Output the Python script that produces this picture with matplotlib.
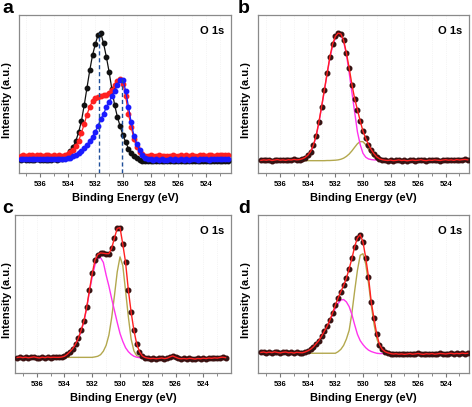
import numpy as np
import matplotlib.pyplot as plt

plt.rcParams['font.family'] = ['Liberation Sans', 'DejaVu Sans']

# binding energy grid (eV), 537.4 -> 522.4 in 0.2 eV steps
energy = np.round(np.linspace(537.4, 522.4, 76), 1)
# fitted components are drawn over 534.4 -> 528.2 (indices 15..46)
comp_slice = slice(15, 47)

# panel a: three samples
a_black = [8.4, 8.6, 8.3, 8.5, 8.2, 8.4, 8.6, 8.3, 8.5, 8.4, 8.2, 8.5, 8.6, 8.4, 8.7,
           9.0, 9.8, 11.5, 13.8, 16.5, 20.5, 26.0, 33.0, 43.0, 54.0, 65.0, 74.5, 81.5, 87.5, 88.5,
           82.0, 73.5, 64.0, 53.0, 43.0, 35.5, 29.5, 24.0, 19.5, 15.5, 12.8, 10.8, 9.3, 8.0, 7.4,
           7.5, 7.3, 7.6, 7.4, 7.7, 7.5, 7.3, 7.6, 7.8, 7.5, 7.4, 7.7, 7.5, 7.6, 7.3, 7.5,
           7.7, 7.4, 7.6, 7.5, 7.8, 7.6, 7.4, 7.7, 7.5, 7.6, 7.8, 7.5, 7.7, 7.6, 7.8]
a_red = [11.0, 11.4, 10.8, 11.2, 11.5, 10.9, 11.3, 11.1, 10.8, 11.4, 11.2, 10.9, 11.3, 11.0, 11.2,
         11.0, 11.2, 11.8, 13.0, 14.6, 17.0, 20.5, 25.5, 31.0, 37.0, 42.0, 45.5, 47.2, 48.3, 49.0,
         49.3, 49.6, 50.5, 52.5, 55.5, 58.0, 59.3, 56.5, 48.5, 37.5, 29.0, 21.5, 16.5, 13.3, 11.8,
         11.0, 10.7, 11.1, 10.6, 10.9, 11.2, 10.8, 10.5, 11.0, 10.9, 11.3, 10.7, 11.0, 11.2, 10.8,
         11.1, 10.9, 11.4, 10.8, 11.0, 11.3, 11.1, 10.9, 11.4, 11.2, 11.0, 11.5, 11.2, 11.4, 11.1, 11.6]
a_blue = [9.0, 8.8, 9.1, 8.9, 8.7, 9.0, 8.8, 9.1, 8.9, 8.8, 9.0, 8.7, 8.9, 9.0, 8.8,
          8.9, 9.0, 9.3, 9.8, 10.6, 11.6, 12.8, 14.2, 15.9, 18.0, 20.3, 23.0, 26.2, 30.0, 34.0,
          37.5, 41.5, 45.0, 48.5, 52.0, 55.8, 58.8, 59.0, 52.0, 42.0, 32.0, 23.5, 18.5, 14.3, 11.3,
          9.6, 8.9, 8.6, 8.5, 8.7, 8.4, 8.6, 8.5, 8.3, 8.6, 8.4, 8.7, 8.5, 8.6, 8.4, 8.7,
          8.5, 8.8, 8.6, 8.5, 8.7, 8.6, 8.8, 8.5, 8.7, 8.9, 8.6, 8.8, 8.7, 8.9, 8.8]
a_peaks = [531.7, 530.1]
a_peak_heights = [88.8, 59.3]

# panels b, c, d: measured data, magenta and olive fitted components
b_data = [8.0, 8.3, 8.1, 8.4, 7.9, 8.2, 8.5, 8.1, 8.3, 8.0, 8.4, 8.2, 8.6, 8.3, 8.5,
          9.0, 9.8, 11.2, 13.5, 17.5, 23.5, 32.0, 42.0, 52.5, 63.0, 73.5, 81.5, 86.5, 88.5, 88.0,
          84.0, 76.0, 66.5, 56.0, 47.0, 40.0, 33.0, 26.5, 22.0, 18.0, 14.8, 12.2, 10.2, 9.0, 8.4,
          8.1, 7.9, 8.2, 7.8, 8.0, 8.3, 7.9, 8.1, 7.7, 8.0, 8.2, 7.9, 8.1, 8.4, 8.0, 7.8,
          8.2, 8.0, 8.3, 8.1, 7.9, 8.2, 8.4, 8.1, 8.3, 8.0, 8.5, 8.2, 8.4, 8.6, 8.3]
b_magenta = [8.3, 8.8, 10.2, 12.8, 17.0, 23.0, 31.5, 41.5, 52.0, 62.5, 72.5, 80.5, 85.5, 88.0, 87.5,
             83.0, 75.0, 63.5, 51.0, 38.5, 26.0, 18.0, 12.5, 10.0, 8.9, 8.5, 8.3, 8.2, 8.2, 8.2, 8.2, 8.2]
b_olive = [7.8, 7.8, 7.8, 7.8, 7.8, 7.8, 7.8, 7.8, 7.8, 7.9, 7.9, 8.0, 8.1, 8.3, 8.7,
           9.4, 10.5, 12.0, 14.0, 16.3, 18.5, 19.9, 19.8, 18.0, 15.0, 12.2, 10.0, 8.8, 8.2, 7.9, 7.8, 7.8]

c_data = [9.8, 10.1, 9.7, 10.0, 9.6, 9.9, 10.2, 9.8, 9.5, 10.0, 9.7, 10.1, 9.8, 10.0, 9.9,
          9.9, 10.1, 10.6, 11.8, 13.5, 15.5, 18.3, 22.0, 27.0, 33.0, 41.5, 52.5, 63.0, 71.5, 75.0,
          76.0, 75.8, 75.5, 75.5, 79.0, 85.5, 91.5, 92.0, 81.5, 70.0, 52.5, 38.5, 27.0, 18.5, 13.5,
          10.8, 9.8, 9.4, 9.1, 9.3, 9.0, 9.2, 9.5, 9.1, 9.4, 10.2, 10.8, 10.0, 9.3, 9.0, 9.2,
          8.9, 9.3, 9.1, 8.8, 9.2, 9.0, 9.4, 9.1, 9.5, 9.3, 9.6, 9.4, 9.8, 10.0, 9.7]
c_magenta = [9.6, 9.9, 10.4, 11.5, 13.2, 15.2, 18.0, 21.7, 26.5, 32.5, 41.0, 51.5, 61.0, 68.5, 72.5,
             73.0, 70.0, 62.0, 55.0, 47.0, 39.5, 32.0, 25.0, 20.0, 16.0, 13.5, 11.8, 10.6, 10.0, 9.7, 9.5, 9.5]
c_olive = [9.9, 9.9, 9.9, 9.9, 9.9, 9.9, 9.9, 9.9, 9.9, 9.9, 9.9, 9.9, 9.9, 10.2, 10.6,
           11.6, 13.8, 17.5, 24.0, 35.0, 49.0, 64.0, 73.5, 68.0, 52.0, 35.6, 21.5, 14.0, 11.0, 10.2, 9.9, 9.9]

d_data = [13.0, 13.3, 12.8, 13.2, 12.9, 13.4, 13.0, 12.7, 13.1, 13.3, 12.8, 13.0, 12.6, 13.1, 12.9,
          12.8, 13.3, 14.0, 15.0, 16.5, 18.5, 20.5, 23.3, 26.5, 29.5, 33.5, 38.0, 43.0, 47.5, 51.5,
          55.5, 60.0, 66.0, 72.5, 80.0, 85.5, 87.5, 83.0, 73.0, 61.0, 45.0, 34.5, 24.5, 18.0, 15.0,
          13.5, 12.8, 12.3, 12.0, 12.2, 11.9, 12.1, 11.8, 12.0, 12.3, 11.9, 12.1, 12.4, 12.0, 11.8,
          12.2, 12.0, 12.3, 11.9, 12.1, 12.4, 12.2, 12.0, 12.3, 12.5, 12.1, 12.4, 12.2, 12.6, 12.3, 12.5]
d_magenta = [12.6, 13.0, 13.6, 14.5, 16.0, 18.0, 20.0, 22.8, 26.0, 29.0, 33.0, 37.0, 41.0, 44.0, 46.2,
             46.5, 45.0, 42.0, 37.0, 30.5, 24.5, 20.5, 18.0, 16.0, 14.5, 13.6, 13.0, 12.5, 12.3, 12.3, 12.3, 12.3]
d_olive = [12.5, 12.5, 12.5, 12.5, 12.5, 12.5, 12.5, 12.5, 12.5, 12.5, 12.5, 12.5, 12.5, 13.5, 15.0,
           17.5, 21.5, 27.0, 38.0, 52.0, 65.0, 74.5, 75.5, 69.0, 57.0, 43.0, 31.0, 22.0, 16.5, 14.0, 13.0, 12.6]

major_ticks = [536, 534, 532, 530, 528, 526, 524]
minor_ticks = [537, 535, 533, 531, 529, 527, 525, 523]

W, H = 472, 407
fig = plt.figure(figsize=(W / 100, H / 100), dpi=100)


def px_axes(left, top, right, bottom):
    return fig.add_axes([left / W, 1 - bottom / H, (right - left) / W, (bottom - top) / H])


def style(ax, xlim, ylab_x):
    ax.set_xlim(*xlim)
    ax.set_ylim(0, 100)
    ax.set_yticks([])
    ax.set_xticks(major_ticks)
    ax.set_xticks(minor_ticks, minor=True)
    ax.set_xticklabels([str(t) for t in major_ticks], fontsize=5.5, fontweight='bold')
    ax.tick_params(axis='x', which='major', direction='out', length=3, width=0.8,
                   color='#777777', pad=2.5)
    ax.tick_params(axis='x', which='minor', direction='out', length=1.8, width=0.6,
                   color='#777777')
    for s in ax.spines.values():
        s.set_color('#8a8a8a')
        s.set_linewidth(0.9)
    ax.set_xlabel('Binding Energy (eV)', fontsize=8, fontweight='bold', labelpad=4)
    ax.set_ylabel('Intensity (a.u.)', fontsize=8, fontweight='bold')
    ax.yaxis.set_label_coords(ylab_x, 0.46)
    ax.text(0.97, 0.93, 'O 1s', transform=ax.transAxes, ha='right', va='top',
            fontsize=8, fontweight='bold')
    # faint dotted background texture
    ax.grid(True, which='both', axis='x', color='#ececec', lw=0.5, ls=':')
    ax.set_axisbelow(True)


ax_a = px_axes(19, 15, 231, 173)
ax_b = px_axes(258, 15, 469, 173)
ax_c = px_axes(15, 215, 231, 373)
ax_d = px_axes(258, 215, 469, 373)

# panel a
for vals, col in [(a_black, '#111111'), (a_red, '#ff2020'), (a_blue, '#1a1aff')]:
    ax_a.plot(energy, vals, '-o', color=col, lw=0.9, ms=3.2, mec=col, zorder=3)
ax_a.vlines(a_peaks, 0, a_peak_heights, colors='#1f4f9a', linestyles=(0, (3, 2)), lw=1, zorder=4)
style(ax_a, (537.52, 522.18), -0.033)

# panels b-d
fit_panels = [
    (ax_b, b_data, b_magenta, b_olive, (537.61, 522.31), -0.033),
    (ax_c, c_data, c_magenta, c_olive, (537.56, 522.01), -0.016),
    (ax_d, d_data, d_magenta, d_olive, (537.61, 522.31), -0.033),
]
for ax, data, mag, olv, xlim, ylx in fit_panels:
    ax.plot(energy[comp_slice], olv, '-', color='#b3a84e', lw=1.0, zorder=2)
    ax.plot(energy[comp_slice], mag, '-', color='#ff33ee', lw=1.0, zorder=2)
    ax.plot(energy, data, 'o', color='#2a1a1a', ms=3.3, mec='#3a1010', zorder=3)
    ax.plot(energy, data, '-', color='#ff2020', lw=1.0, zorder=4)
    style(ax, xlim, ylx)

# panel letters
for letter, (x, y) in zip('abcd', [(2, 0), (238, 0), (2, 200), (238, 200)]):
    fig.text(x / W, 1 - y / H, letter, ha='left', va='top', fontsize=14, fontweight='bold')

fig.savefig('out.png', dpi=100)
